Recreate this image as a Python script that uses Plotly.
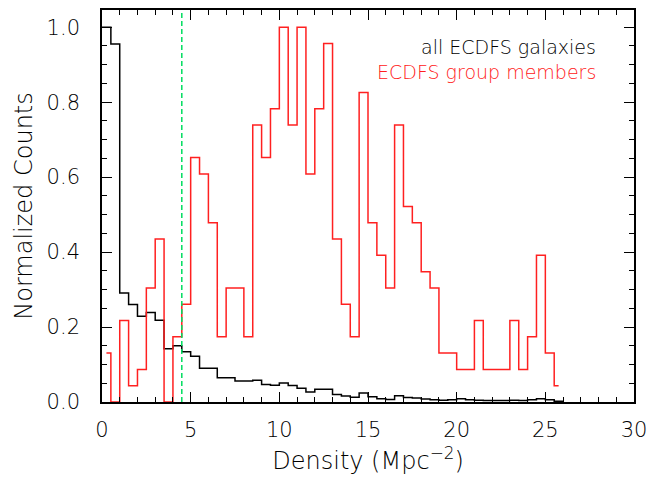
import plotly.graph_objects as go

# ---- data ----
bin_width = 0.5
# all ECDFS galaxies: normalized counts per 0.5-wide bin starting at 0
all_vals = [1.0, 0.955, 0.291, 0.260, 0.229, 0.239, 0.218, 0.142, 0.150, 0.134,
            0.122, 0.090, 0.090, 0.065, 0.065, 0.056, 0.056, 0.058, 0.047, 0.045,
            0.051, 0.044, 0.037, 0.027, 0.034, 0.034, 0.020, 0.016, 0.013, 0.024,
            0.014, 0.009, 0.007, 0.017, 0.012, 0.011, 0.008, 0.006, 0.005, 0.006,
            0.009, 0.006, 0.005, 0.004, 0.004, 0.004, 0.005, 0.004, 0.006, 0.009,
            0.006, 0.002]
# ECDFS group members: counts per bin (centres 0.25, 0.75, ...), max = 23
grp_counts = [3, 0, 5, 1, 2, 7, 10, 0, 4, 6,
              15, 14, 11, 4, 7, 7, 4, 17, 15, 18,
              23, 17, 23, 14, 18, 22, 10, 6, 4, 19,
              11, 9, 7, 17, 12, 11, 8, 7, 3, 3,
              2, 2, 5, 2, 2, 2, 5, 2, 4, 9,
              3, 1]
density_cut = 4.5
x_ticks = [0, 5, 10, 15, 20, 25, 30]
y_ticks = [0.0, 0.2, 0.4, 0.6, 0.8, 1.0]

# ---- derived ----
all_x = [i * bin_width for i in range(len(all_vals) + 1)]
all_y = all_vals + [all_vals[-1]]
gmax = max(grp_counts)
grp_x = [bin_width / 2 + i * bin_width for i in range(len(grp_counts))]
grp_y = [c / gmax for c in grp_counts]

FONT = "DejaVu Sans"
TXT = "black"

fig = go.Figure()
fig.add_trace(go.Scatter(x=all_x, y=all_y, mode="lines", line_shape="hv",
                         line=dict(color="black", width=1.5), showlegend=False))
fig.add_trace(go.Scatter(x=grp_x, y=grp_y, mode="lines", line_shape="hvh",
                         line=dict(color="#ff2020", width=1.5), showlegend=False))
fig.add_shape(type="line", xref="x", yref="paper", x0=density_cut, x1=density_cut,
              y0=0, y1=1, line=dict(color="#00dd60", width=1.5, dash="5px,3px"))

fig.add_annotation(x=0.932, y=0.906, xref="paper", yref="paper", xanchor="right",
                   yanchor="middle", showarrow=False, text="all ECDFS galaxies",
                   font=dict(family=FONT, size=19, color=TXT, weight=200))
fig.add_annotation(x=0.932, y=0.842, xref="paper", yref="paper", xanchor="right",
                   yanchor="middle", showarrow=False, text="ECDFS group members",
                   font=dict(family=FONT, size=19, color="#ff2020", weight=200))

axis_common = dict(showline=True, linecolor="black", linewidth=1.6, mirror="allticks",
                   ticks="inside", tickcolor="black", tickwidth=1.2, showgrid=False,
                   zeroline=False, automargin=False,
                   tickfont=dict(family=FONT, size=21, color=TXT, weight=200))

fig.update_xaxes(range=[0, 30], tickvals=x_ticks, ticklen=10,
                 minor=dict(dtick=1, ticks="inside", ticklen=5, tickcolor="black", tickwidth=1),
                 title=dict(text="Density (Mpc<sup>−2</sup>)", standoff=11,
                            font=dict(family=FONT, size=24, color=TXT, weight=200)),
                 ticklabelstandoff=8, **axis_common)
fig.update_yaxes(range=[0, 1.046], tickvals=y_ticks, ticktext=[f"{v:.1f}" for v in y_ticks],
                 ticklen=10,
                 minor=dict(dtick=0.05, ticks="inside", ticklen=5, tickcolor="black", tickwidth=1),
                 title=dict(text="Normalized Counts", standoff=7,
                            font=dict(family=FONT, size=24, color=TXT, weight=200)),
                 ticklabelstandoff=16, **axis_common)

# the page body adds an 8px offset, so the figure is sized to fill the rest of the window
fig.update_layout(width=653, height=471, margin=dict(l=94, r=27, t=2, b=77),
                  plot_bgcolor="white", paper_bgcolor="white")

fig.write_html("out.html")
